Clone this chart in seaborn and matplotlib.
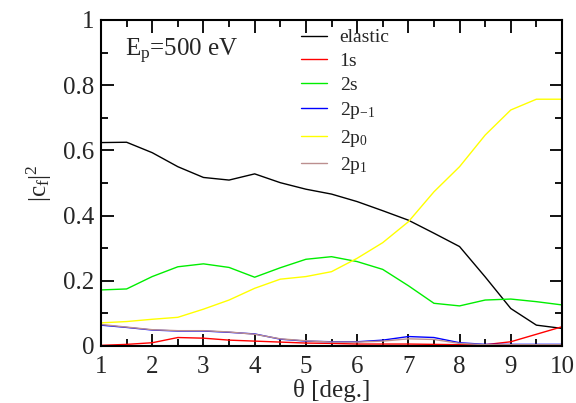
import matplotlib
matplotlib.use("Agg")
import matplotlib.pyplot as plt
import seaborn as sns
import pandas as pd
import numpy as np
from matplotlib.ticker import MultipleLocator, FuncFormatter

theta = [1, 1.5, 2, 2.5, 3, 3.5, 4, 4.5, 5, 5.5, 6, 6.5, 7, 7.5, 8, 8.5, 9, 9.5, 10]
elastic = [0.624, 0.625, 0.593, 0.550, 0.517, 0.509, 0.528, 0.501, 0.481, 0.466, 0.443,
           0.415, 0.386, 0.346, 0.305, 0.212, 0.115, 0.064, 0.054]
s1 = [0.002, 0.005, 0.010, 0.026, 0.024, 0.018, 0.015, 0.012, 0.009, 0.008, 0.006,
      0.006, 0.006, 0.005, 0.004, 0.004, 0.013, 0.036, 0.059]
s2 = [0.172, 0.175, 0.213, 0.243, 0.252, 0.241, 0.211, 0.240, 0.266, 0.274, 0.259,
      0.235, 0.185, 0.131, 0.123, 0.141, 0.144, 0.136, 0.126]
p_m1 = [0.064, 0.057, 0.049, 0.046, 0.046, 0.042, 0.037, 0.021, 0.015, 0.013, 0.013,
        0.018, 0.029, 0.026, 0.010, 0.005, 0.005, 0.005, 0.005]
p_0 = [0.071, 0.075, 0.082, 0.088, 0.113, 0.141, 0.177, 0.205, 0.213, 0.228, 0.269,
       0.317, 0.381, 0.473, 0.550, 0.647, 0.724, 0.757, 0.757]
p_1 = [0.066, 0.058, 0.050, 0.047, 0.047, 0.043, 0.036, 0.022, 0.016, 0.012, 0.012,
       0.015, 0.022, 0.020, 0.008, 0.004, 0.004, 0.004, 0.004]

labels = ["elastic", "1s", "2s", r"2p$_{-1}$", r"2p$_0$", r"2p$_1$"]
series = [elastic, s1, s2, p_m1, p_0, p_1]
colors = ["#000000", "#ff0000", "#00ee00", "#0000ff", "#ffff00", "#bc8f8f"]

rows = []
for lab, vals in zip(labels, series):
    for t, v in zip(theta, vals):
        rows.append({"theta": t, "value": v, "state": lab})
df = pd.DataFrame(rows)

sns.set_style("ticks")
plt.rcParams["font.family"] = ["Liberation Serif", "DejaVu Serif"]
plt.rcParams["mathtext.fontset"] = "custom"
plt.rcParams["mathtext.rm"] = "Liberation Serif"
plt.rcParams["mathtext.it"] = "Liberation Serif:italic"
plt.rcParams["mathtext.default"] = "regular"

fig = plt.figure(figsize=(5.76, 4.03), dpi=100)
ax = fig.add_axes([101/576, 1-346/403, 461/576, 326/403])

sns.lineplot(data=df, x="theta", y="value", hue="state", hue_order=labels,
             palette=dict(zip(labels, colors)), linewidth=1.0, ax=ax, legend=True)

ax.set_xlim(1, 10)
ax.set_ylim(0, 1)
ax.xaxis.set_major_locator(MultipleLocator(1))
ax.xaxis.set_minor_locator(MultipleLocator(0.5))
ax.yaxis.set_major_locator(MultipleLocator(0.2))
ax.yaxis.set_minor_locator(MultipleLocator(0.1))
ax.yaxis.set_major_formatter(FuncFormatter(lambda v, p: "%g" % round(v, 3)))
ax.tick_params(which="both", direction="in", top=True, right=True, labelsize=18,
               color="black", width=1.3)
ax.tick_params(which="major", length=9, pad=5)
ax.tick_params(axis="x", which="major", pad=7)
ax.tick_params(which="minor", length=5)
for sp in ax.spines.values():
    sp.set_linewidth(1.5)
    sp.set_color("black")

ax.set_xlabel("θ [deg.]", fontsize=18, labelpad=1)
ax.set_ylabel(r"$|c_f|^2$", fontsize=18, labelpad=6)

ax.text(1.47, 0.905, r"E$_p$=500 eV", fontsize=18, va="center", ha="left")

handles, labs = ax.get_legend_handles_labels()
ax.legend(handles, labs, loc="upper left", bbox_to_anchor=(0.425, 0.985), frameon=False,
          fontsize=14, handlelength=1.35, handletextpad=0.65, labelspacing=0.32,
          borderaxespad=0.0, borderpad=0.2)

fig.savefig("out.png", dpi=100)
